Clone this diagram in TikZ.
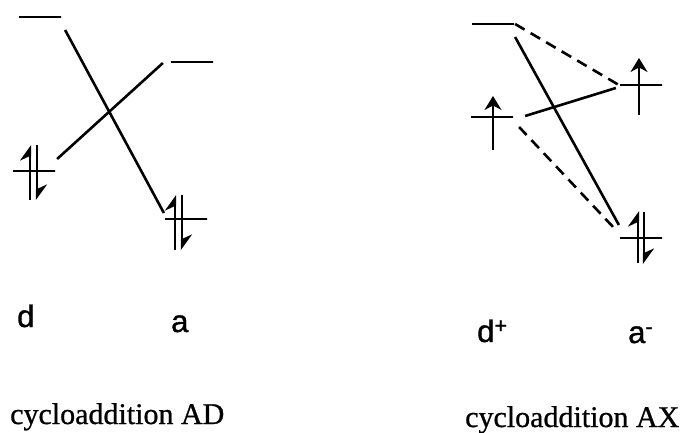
\documentclass[tikz,border=0pt]{standalone}
\usepackage{fontspec}
\setmainfont{Liberation Serif}
\newfontfamily\capfont[FakeBold=0.8]{Liberation Serif}
\newfontfamily\labfont[FakeBold=1.2]{Liberation Sans}
\usetikzlibrary{arrows.meta}

\begin{document}
\begin{tikzpicture}[x=1pt, y=-1pt,
  level/.style={draw, line width=2.2pt, minimum width=42pt, minimum height=0pt, inner sep=0pt},
  corr/.style={line width=2.6pt},
  weak/.style={line width=2.6pt, dash pattern=on 11pt off 7pt},
  spin/.style={line width=2.2pt, -{Stealth[harpoon, length=14pt, width=20pt]}},
  single/.style={line width=2.2pt, -{Stealth[length=14pt, width=17pt]}},
  lab/.style={anchor=base west, inner sep=0pt, font=\labfont\fontsize{31}{34}\selectfont},
  caption/.style={anchor=base west, inner sep=0pt, font=\capfont\fontsize{30}{34}\selectfont}
]
  \useasboundingbox (0,0) rectangle (680,433);

  % Levels, cycloaddition AD
  \node[level] (dlumo) at (40,17) {};
  \node[level] (alumo) at (192,62) {};
  \node[level] (dhomo) at (34,171) {};
  \node[level] (ahomo) at (186,219) {};

  % Electron pairs
  \draw[spin] ([shift={(-4,29)}]dhomo.center) -- ++(0,-55);
  \draw[spin] ([shift={(3,-26)}]dhomo.center) -- ++(0,55);
  \draw[spin] ([shift={(-11,31)}]ahomo.center) -- ++(0,-55);
  \draw[spin] ([shift={(-4,-24)}]ahomo.center) -- ++(0,55);

  % Correlation lines
  \draw[corr] ([shift={(3,13)}]dlumo.east) -- ([shift={(0,-6)}]ahomo.west);
  \draw[corr] ([shift={(1,-12)}]dhomo.east) -- ([shift={(-7,1)}]alumo.west);

  % Levels, cycloaddition AX
  \node[level] (dtop) at (493,24) {};
  \node[level] (asomo) at (641,85) {};
  \node[level] (dsomo) at (492,117) {};
  \node[level] (abot) at (641,238) {};

  % Electrons
  \draw[single] ([shift={(-2,30)}]asomo.center) -- ++(0,-57);
  \draw[single] ([shift={(1,33)}]dsomo.center) -- ++(0,-54);
  \draw[spin] ([shift={(-3,25)}]abot.center) -- ++(0,-52);
  \draw[spin] ([shift={(3,-26)}]abot.center) -- ++(0,52);

  % Correlation lines
  \draw[weak] (dtop.east) -- (asomo.west);
  \draw[corr] ([shift={(0,13)}]dtop.east) -- ([shift={(0,-13)}]abot.west);
  \draw[corr] ([shift={(11,-1)}]dsomo.east) -- ([shift={(-3,3)}]asomo.west);
  \draw[weak] ([shift={(5,10)}]dsomo.east) -- ([shift={(-3,-8)}]abot.west);

  % Labels
  \node[lab] (ld) at (17,327) {d};
  \node[lab] (la) at (171,332) {a};
  \node[lab] (ldp) at (477,342) {d\textsuperscript{+}};
  \node[lab] (lam) at (628,343) {a\textsuperscript{-}};
  \node[caption] (cad) at (10,424) {cycloaddition AD};
  \node[caption] (cax) at (465,427) {cycloaddition AX};
\end{tikzpicture}
\end{document}
